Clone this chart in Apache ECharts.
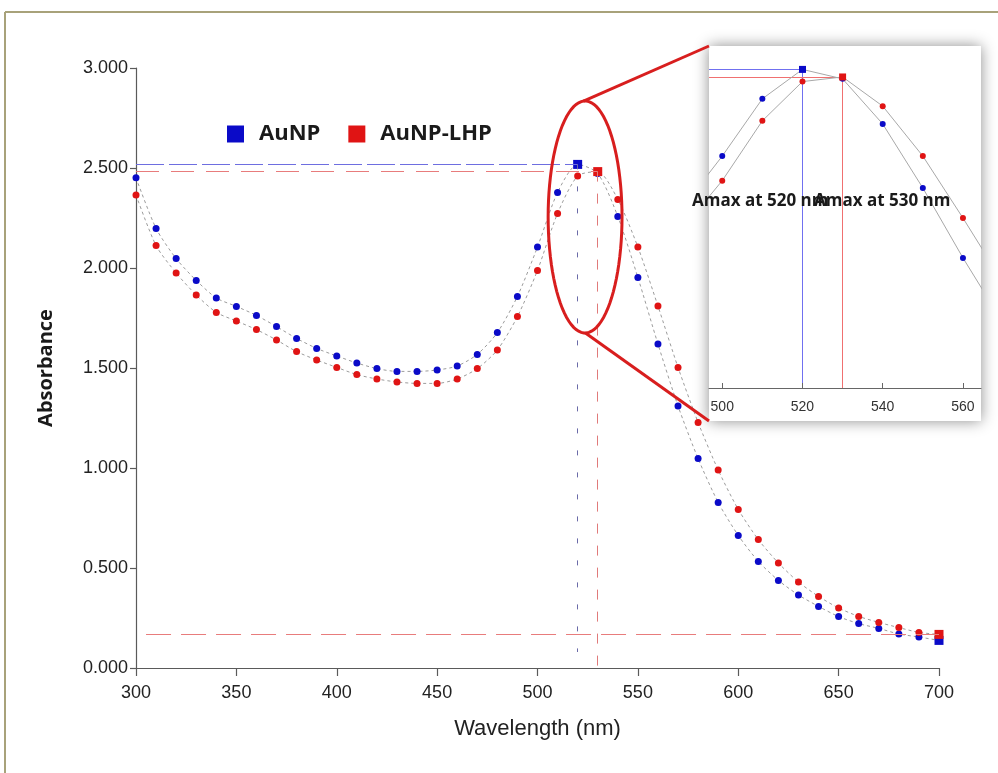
<!DOCTYPE html>
<html>
<head>
<meta charset="utf-8">
<script src="https://cdn.jsdelivr.net/npm/echarts@6/dist/echarts.min.js"></script>
<style>
  html, body { margin: 0; padding: 0; background: #fff; }
  #chart { width: 998px; height: 773px; }
</style>
</head>
<body>
<div id="chart"></div>
<script>
// wavelength (nm)
const wavelengths = [300, 310, 320, 330, 340, 350, 360, 370, 380, 390, 400, 410, 420, 430, 440, 450, 460, 470, 480, 490,
  500, 510, 520, 530, 540, 550, 560, 570, 580, 590, 600, 610, 620, 630, 640, 650, 660, 670, 680, 690, 700];

// absorbance
const aunp = [2.451, 2.198, 2.047, 1.938, 1.850, 1.808, 1.763, 1.707, 1.648, 1.598, 1.560, 1.525, 1.497, 1.483, 1.483,
  1.490, 1.510, 1.568, 1.677, 1.858, 2.105, 2.378, 2.518, 2.473, 2.258, 1.953, 1.620, 1.310, 1.047, 0.828, 0.663,
  0.533, 0.438, 0.365, 0.308, 0.257, 0.222, 0.198, 0.170, 0.155, 0.138];
const aunpLhp = [2.365, 2.112, 1.975, 1.865, 1.778, 1.735, 1.692, 1.640, 1.582, 1.540, 1.503, 1.467, 1.445, 1.430,
  1.423, 1.423, 1.445, 1.497, 1.590, 1.757, 1.988, 2.273, 2.460, 2.482, 2.343, 2.105, 1.810, 1.503, 1.228, 0.990,
  0.793, 0.642, 0.525, 0.430, 0.358, 0.300, 0.258, 0.228, 0.202, 0.178, 0.168];

const seriesNames = ["AuNP", "AuNP-LHP"];
const seriesColors = ["#0a0ac8", "#e01414"];
const insetTicks = [500, 520, 540, 560];
const insetLabels = ["Amax at 520 nm", "Amax at 530 nm"];

// where the dotted drop lines stop, in absorbance
const dropEnds = [0.08, 0];
const baselineStart = 305;

// inset ranges
const insetX = [496.7, 564.5];
const insetY = [1.0, 2.62];

// zoom ellipse around the peak, in data units [centre nm, centre abs, half nm, half abs]
const zoomEllipse = [523.7, 2.255, 18.4, 0.58];

const argMax = (arr) => arr.indexOf(Math.max(...arr));
const peaks = [aunp, aunpLhp].map((s) => argMax(s));
const lastIdx = wavelengths.length - 1;
const pkNm = peaks.map((p) => wavelengths[p]);
const pkVal = [aunp[peaks[0]], aunpLhp[peaks[1]]];

const pairs = (vals) => wavelengths.map((w, i) => [w, vals[i]]);

const chart = echarts.init(document.getElementById("chart"));

const axisGray = "#5a5a5a";
const tickFont = "'Liberation Sans', Arial, sans-serif";

function mainSeries(idx, vals) {
  const pk = peaks[idx];
  return {
    name: seriesNames[idx],
    type: "line",
    data: pairs(vals),
    smooth: 0.25,
    showAllSymbol: true,
    symbol: (v, p) => (p.dataIndex === pk || p.dataIndex === lastIdx ? "rect" : "circle"),
    symbolSize: (v, p) => (p.dataIndex === pk || p.dataIndex === lastIdx ? 9 : 7),
    itemStyle: { color: seriesColors[idx] },
    lineStyle: { color: "#9c9c9c", width: 1, type: [3, 3] },
    z: 4,
  };
}

function insetSeries(idx, vals) {
  const pk = peaks[idx];
  return {
    name: seriesNames[idx],
    type: "line",
    xAxisIndex: 1,
    yAxisIndex: 1,
    data: pairs(vals),
    smooth: false,
    clip: true,
    symbol: (v, p) => (p.dataIndex === pk ? "rect" : "circle"),
    symbolSize: (v, p) => (p.dataIndex === pk ? 7 : 6),
    itemStyle: { color: seriesColors[idx] },
    lineStyle: { color: "#a8a8a8", width: 1 },
    z: 6,
  };
}

// empty series that only carry a reference line
function refLine(axisIdx, color, dash, segments) {
  return {
    type: "line",
    xAxisIndex: axisIdx,
    yAxisIndex: axisIdx,
    data: [],
    silent: true,
    z: axisIdx === 0 ? 3 : 5,
    markLine: {
      silent: true,
      symbol: "none",
      label: { show: false },
      lineStyle: { color: color, width: 1, type: dash, opacity: 1 },
      emphasis: { disabled: true },
      data: segments.map((s) => [{ coord: s[0] }, { coord: s[1] }]),
    },
  };
}

const refSeries = [
  refLine(0, "#6e6ee0", [28, 5], [[[300, pkVal[0]], [pkNm[0], pkVal[0]]]]),
  refLine(0, "#6a6aa8", [5, 17], [[[pkNm[0], pkVal[0]], [pkNm[0], dropEnds[0]]]]),
  refLine(0, "#e87c7c", [23, 12], [[[300, pkVal[1]], [pkNm[1], pkVal[1]]]]),
  refLine(0, "#e07a7a", [10, 12], [[[pkNm[1], pkVal[1]], [pkNm[1], dropEnds[1]]]]),
  refLine(0, "#e87c7c", [25, 10], [[[baselineStart, aunpLhp[lastIdx]], [700, aunpLhp[lastIdx]]]]),
  refLine(1, "#7070f0", "solid", [
    [[insetX[0], pkVal[0]], [pkNm[0], pkVal[0]]],
    [[pkNm[0], pkVal[0]], [pkNm[0], insetY[0]]],
  ]),
  refLine(1, "#f07070", "solid", [
    [[insetX[0], pkVal[1]], [pkNm[1], pkVal[1]]],
    [[pkNm[1], pkVal[1]], [pkNm[1], insetY[0]]],
  ]),
];

const option = {
  animation: false,
  backgroundColor: "#ffffff",
  legend: {
    data: seriesNames,
    left: 222,
    top: 118,
    icon: "rect",
    itemWidth: 17,
    itemHeight: 17,
    itemGap: 28,
    textStyle: {
      fontFamily: "'Open Sans', sans-serif",
      fontWeight: "bold",
      fontSize: 22,
      color: "#1a1a1a",
      padding: [0, 0, 0, 10],
    },
  },
  grid: [
    { left: 136, right: 59, top: 68, bottom: 105 },
    { left: 709, top: 48, width: 272, height: 340 },
  ],
  xAxis: [
    {
      type: "value",
      gridIndex: 0,
      min: 300,
      max: 700,
      interval: 50,
      name: "Wavelength (nm)",
      nameLocation: "middle",
      nameGap: 50,
      nameTextStyle: { fontFamily: tickFont, fontSize: 22, color: "#222" },
      axisLine: { show: true, onZero: false, lineStyle: { color: axisGray, width: 1.2 } },
      axisTick: { show: true, length: 8, lineStyle: { color: axisGray, width: 1.2 } },
      axisLabel: { fontFamily: tickFont, fontSize: 18, color: "#222", margin: 16 },
      splitLine: { show: false },
    },
    {
      type: "value",
      gridIndex: 1,
      min: insetX[0],
      max: insetX[1],
      z: 8,
      axisLine: { show: true, onZero: false, lineStyle: { color: "#666", width: 1 } },
      axisTick: { show: true, inside: true, length: 5, customValues: insetTicks, lineStyle: { color: "#666" } },
      axisLabel: { customValues: insetTicks, fontFamily: tickFont, fontSize: 14, color: "#333", margin: 12 },
      splitLine: { show: false },
    },
  ],
  yAxis: [
    {
      type: "value",
      gridIndex: 0,
      min: 0,
      max: 3,
      interval: 0.5,
      name: "Absorbance",
      nameLocation: "middle",
      nameRotate: 90,
      nameGap: 80,
      nameTextStyle: { fontFamily: "'Open Sans', sans-serif", fontWeight: "bold", fontSize: 20, color: "#1a1a1a" },
      axisLine: { show: true, lineStyle: { color: axisGray, width: 1.2 } },
      axisTick: { show: true, length: 6, lineStyle: { color: axisGray, width: 1.2 } },
      axisLabel: {
        fontFamily: tickFont,
        fontSize: 18,
        color: "#222",
        margin: 8,
        formatter: (v) => v.toFixed(3),
      },
      splitLine: { show: false },
    },
    {
      type: "value",
      gridIndex: 1,
      min: insetY[0],
      max: insetY[1],
      show: false,
      splitLine: { show: false },
    },
  ],
  series: [
    mainSeries(0, aunp),
    mainSeries(1, aunpLhp),
    insetSeries(0, aunp),
    insetSeries(1, aunpLhp),
    ...refSeries,
  ],
};

chart.setOption(option);

// annotations: frame, inset box, zoom ellipse and its connectors
const toPx = (p) => chart.convertToPixel({ gridIndex: 0 }, p);
const [ecx, ecy, erx, ery] = zoomEllipse;
const ellipsePts = [];
for (let k = 0; k < 90; k++) {
  const t = (k / 90) * Math.PI * 2;
  ellipsePts.push(toPx([ecx + erx * Math.cos(t), ecy + ery * Math.sin(t)]));
}
const eTop = toPx([ecx - 0.8, ecy + ery * 0.998]);
const eBot = toPx([ecx, ecy - ery * 0.998]);

const box = { x: 709, y: 46, width: 272, height: 375 };

chart.setOption({
  graphic: [
    {
      type: "line",
      shape: { x1: 5, y1: 12, x2: 998, y2: 12 },
      style: { stroke: "#a8a27a", lineWidth: 2 },
      silent: true,
    },
    {
      type: "line",
      shape: { x1: 5, y1: 12, x2: 5, y2: 773 },
      style: { stroke: "#a8a27a", lineWidth: 2 },
      silent: true,
    },
    {
      type: "rect",
      shape: box,
      z: 1,
      style: { fill: "#ffffff", shadowBlur: 14, shadowColor: "rgba(0,0,0,0.45)" },
      silent: true,
    },
    {
      type: "polygon",
      shape: { points: ellipsePts },
      z: 20,
      style: { fill: null, stroke: "#d81e1e", lineWidth: 3 },
      silent: true,
    },
    {
      type: "line",
      shape: { x1: eTop[0], y1: eTop[1], x2: box.x, y2: box.y },
      z: 20,
      style: { stroke: "#d81e1e", lineWidth: 3 },
      silent: true,
    },
    {
      type: "line",
      shape: { x1: eBot[0], y1: eBot[1], x2: box.x, y2: box.y + box.height },
      z: 20,
      style: { stroke: "#d81e1e", lineWidth: 3 },
      silent: true,
    },
    {
      type: "text",
      x: 692,
      y: 201,
      z: 30,
      style: {
        text: insetLabels[0],
        fill: "#1a1a1a",
        font: "bold 17px 'Open Sans', sans-serif",
        verticalAlign: "middle",
      },
      silent: true,
    },
    {
      type: "text",
      x: 814,
      y: 201,
      z: 30,
      style: {
        text: insetLabels[1],
        fill: "#1a1a1a",
        font: "bold 17px 'Open Sans', sans-serif",
        verticalAlign: "middle",
      },
      silent: true,
    },
  ],
});

window.addEventListener("resize", () => chart.resize());
</script>
</body>
</html>
